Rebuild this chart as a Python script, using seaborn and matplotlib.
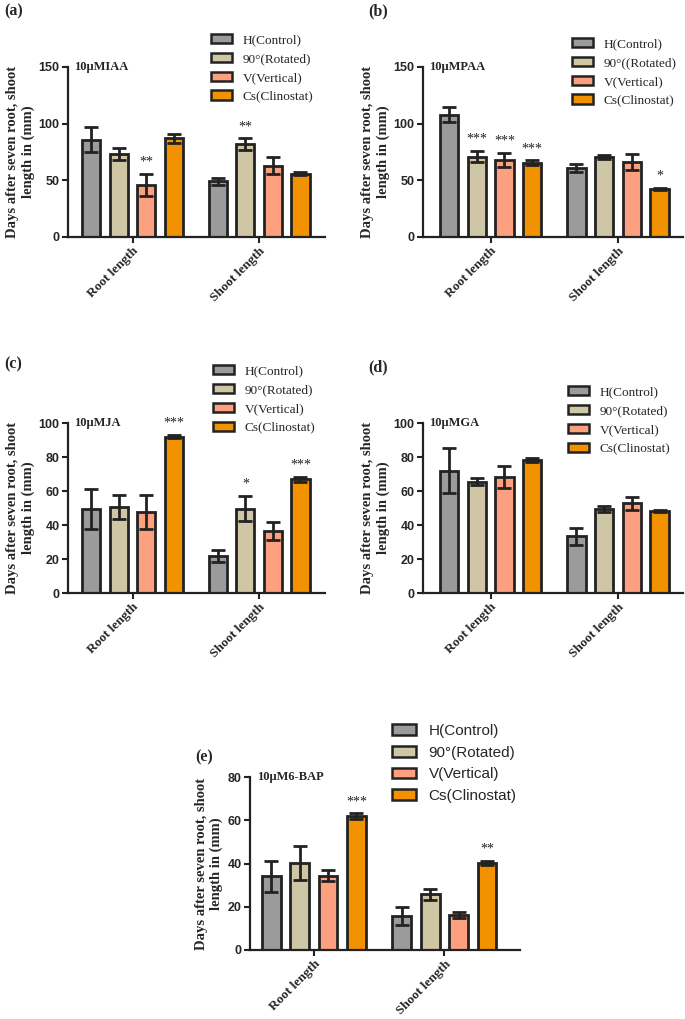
import numpy as np
import pandas as pd
import matplotlib
matplotlib.use("Agg")
import matplotlib.pyplot as plt
import seaborn as sns
from matplotlib.patches import Patch
from matplotlib.container import BarContainer

sns.set_style("ticks")
plt.rcParams['font.family'] = ['Liberation Serif', 'DejaVu Serif']

groups = ["Root length", "Shoot length"]
treatments = ["H(Control)", "90°(Rotated)", "V(Vertical)", "Cs(Clinostat)"]
legend_b = ["H(Control)", "90°((Rotated)", "V(Vertical)", "Cs(Clinostat)"]
colors = ["#9a9c9b", "#cfc6a5", "#fca080", "#f39200"]

# values: rows = treatment (H, 90, V, Cs), cols = (root, shoot)
iaa_mean = [[86, 49], [73, 82], [46, 63], [87, 56]]
iaa_err = [[11, 3], [5.5, 5], [9.5, 7.5], [4, 1]]
iaa_stars = [["", ""], ["", "**"], ["**", ""], ["", ""]]

paa_mean = [[108, 61], [71, 70.5], [68, 66], [65.5, 42.3]]
paa_err = [[6.5, 3.5], [5, 1.5], [6, 7], [2, 1.2]]
paa_stars = [["", ""], ["***", ""], ["***", ""], ["***", "*"]]

ja_mean = [[49.4, 21.6], [50.4, 49.6], [47.6, 36.5], [92, 67]]
ja_err = [[12, 3.5], [7, 7.5], [10, 5.5], [1, 1.5]]
ja_stars = [["", ""], ["", "*"], ["", ""], ["***", "***"]]

ga_mean = [[72, 33.5], [65.5, 49.5], [68, 52.7], [78.4, 48.3]]
ga_err = [[13, 5], [2, 1.8], [6.5, 3.7], [1.2, 0.8]]
ga_stars = [["", ""], ["", ""], ["", ""], ["", ""]]

bap_mean = [[34, 15.7], [40.2, 25.7], [34.3, 16.3], [61.8, 40.3]]
bap_err = [[7, 4], [7.8, 2.6], [2.6, 1.5], [1.4, 1]]
bap_stars = [["", ""], ["", ""], ["", ""], ["***", "**"]]

fig = plt.figure(figsize=(6.85, 10.19), dpi=100)
W, H = 685, 1019

def ax_at(x0, x1, ytop, ybot):
    return fig.add_axes([x0 / W, 1 - ybot / H, (x1 - x0) / W, (ybot - ytop) / H])

def panel(ax, mean, err, stars, ymax, ystep, inner, letter, letter_xy, leg_labels,
          leg_xy, xlim, legend_sans=False):
    rows = []
    for i, t in enumerate(treatments):
        for j, g in enumerate(groups):
            rows.append({"group": g, "treat": t, "val": mean[i][j]})
    df = pd.DataFrame(rows)
    sns.barplot(data=df, x="group", y="val", hue="treat", hue_order=treatments,
                order=groups, palette=colors, width=0.87, gap=0.34,
                errorbar=None, edgecolor="#222222", linewidth=2.0, ax=ax,
                legend=False, saturation=1)
    bar_conts = [c for c in ax.containers if isinstance(c, BarContainer)]
    for i, cont in enumerate(bar_conts):
        xs = [p.get_x() + p.get_width() / 2 for p in cont.patches]
        ys = [p.get_height() for p in cont.patches]
        ax.errorbar(xs, ys, yerr=err[i], fmt="none", ecolor="#222222",
                    elinewidth=2.0, capsize=5, capthick=2.0, zorder=5)
        for k, x in enumerate(xs):
            s = stars[i][k]
            if s:
                ax.text(x, ys[k] + err[i][k] + ymax * 0.03, s, ha="center",
                        va="bottom", fontsize=10, color="#222222")
    ax.set_ylim(0, ymax)
    ax.set_xlim(*xlim)
    ax.set_yticks(np.arange(0, ymax + 1, ystep))
    for lab in ax.get_yticklabels():
        lab.set_fontfamily("Liberation Sans")
        lab.set_fontweight("bold")
        lab.set_fontsize(9)
    ax.set_xticks([0, 1])
    ax.set_xticklabels(groups, rotation=45, ha="right", rotation_mode="anchor",
                       fontweight="bold", fontsize=9.5)
    ax.tick_params(axis="both", width=1.5, length=4, color="#222222", pad=2)
    for sp in ["left", "bottom"]:
        ax.spines[sp].set_linewidth(1.6)
        ax.spines[sp].set_color("#222222")
    sns.despine(ax=ax)
    ax.set_xlabel("")
    ax.set_ylabel("Days after seven root, shoot\nlength in (mm)", fontweight="bold",
                  fontsize=10.5, linespacing=1.15, labelpad=3)
    ax.text(0.025, 1.0, inner, transform=ax.transAxes, ha="left", va="center",
            fontweight="bold", fontsize=9)
    fig.text(letter_xy[0] / W, 1 - letter_xy[1] / H, letter, fontweight="bold",
             fontsize=11.5, ha="left", va="center")
    handles = [Patch(facecolor=c, edgecolor="#222222", linewidth=1.8) for c in colors]
    fam = "Liberation Sans" if legend_sans else "Liberation Serif"
    fs = 11 if legend_sans else 9.5
    fig.legend(handles, leg_labels, loc="upper left",
               bbox_to_anchor=(leg_xy[0] / W, 1 - leg_xy[1] / H),
               frameon=False, prop={"family": fam, "size": fs},
               handlelength=1.6, handleheight=0.7, labelspacing=0.5,
               handletextpad=0.8, borderaxespad=0, borderpad=0)

axA = ax_at(68, 325, 67, 237)
panel(axA, iaa_mean, iaa_err, iaa_stars, 150, 50, "10μMIAA", "(a)", (4, 11),
      treatments, (211, 34), (-0.51, 1.52))
axB = ax_at(423, 683, 67, 237)
panel(axB, paa_mean, paa_err, paa_stars, 150, 50, "10μMPAA", "(b)", (368, 11),
      legend_b, (572, 38), (-0.53, 1.51))
axC = ax_at(68, 325, 423, 593)
panel(axC, ja_mean, ja_err, ja_stars, 100, 20, "10μMJA", "(c)", (4, 364),
      treatments, (213, 365), (-0.51, 1.52))
axD = ax_at(423, 683, 423, 593)
panel(axD, ga_mean, ga_err, ga_stars, 100, 20, "10μMGA", "(d)", (368, 367),
      treatments, (568, 386), (-0.53, 1.51))
axE = ax_at(250, 520, 777, 950)
panel(axE, bap_mean, bap_err, bap_stars, 80, 20, "10μM6-BAP", "(e)", (195, 757),
      treatments, (392, 724), (-0.49, 1.58), legend_sans=True)

fig.savefig("out.png", dpi=100, facecolor="white")
